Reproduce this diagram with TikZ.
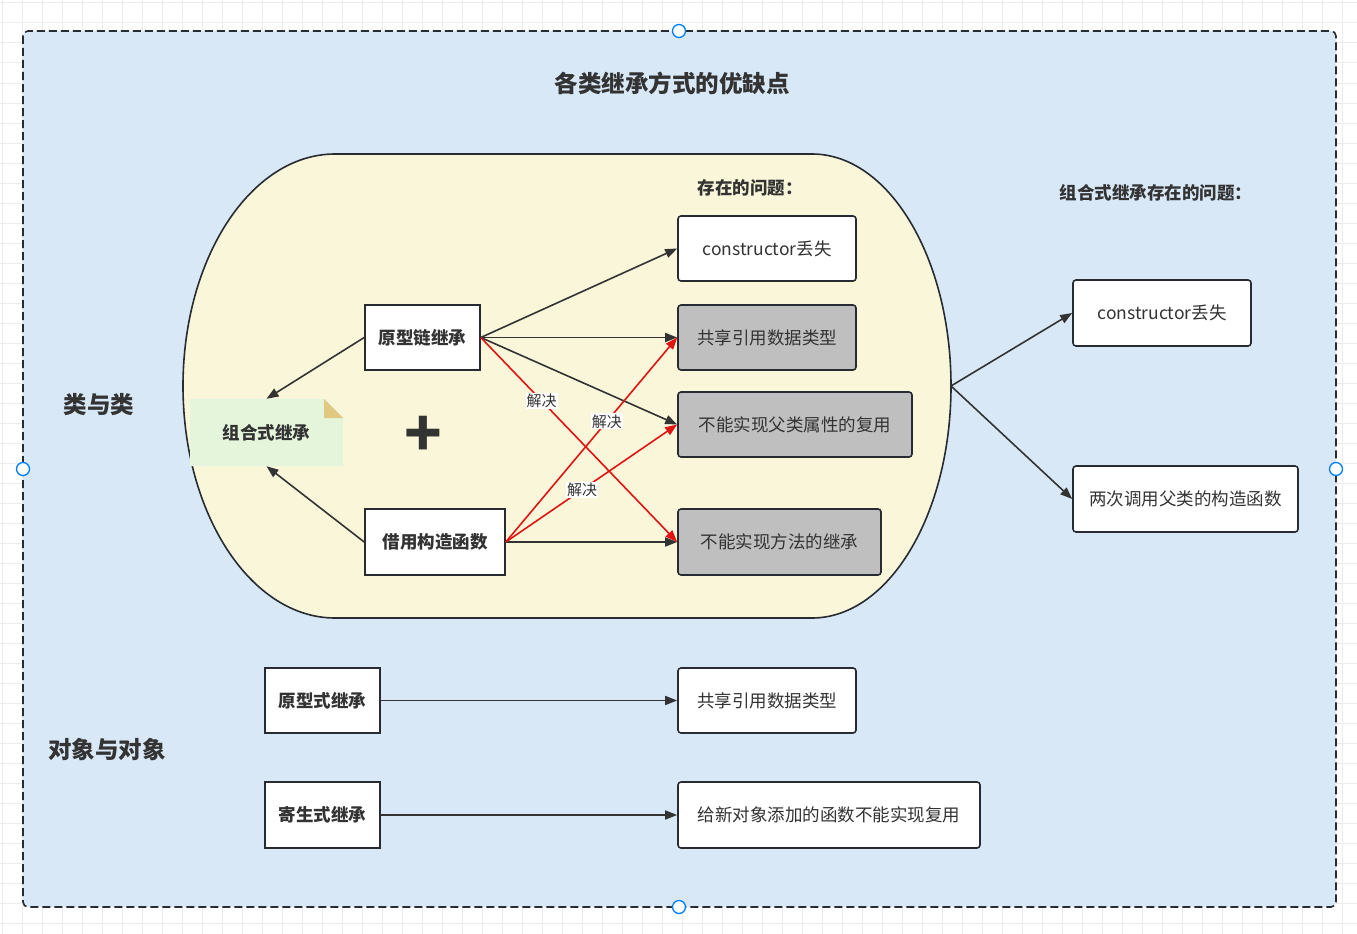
\documentclass[tikz,border=0pt]{standalone}
\usepackage{fontspec}
\setmainfont{Noto Sans CJK SC}
\usetikzlibrary{arrows.meta}

\definecolor{gridc}{RGB}{236,236,236}
\definecolor{panel}{RGB}{216,232,247}
\definecolor{blobc}{RGB}{250,246,218}
\definecolor{notec}{RGB}{228,245,220}
\definecolor{foldc}{RGB}{224,200,128}
\definecolor{greyc}{RGB}{191,191,191}
\definecolor{ink}{RGB}{51,51,51}
\definecolor{edge}{RGB}{40,44,50}
\definecolor{handle}{RGB}{0,127,255}
\definecolor{solve}{RGB}{225,20,20}

\newcommand\fbody{\fontsize{17.5pt}{21pt}\selectfont}
\newcommand\fhead{\bfseries\fontsize{17.5pt}{21pt}\selectfont}
\newcommand\fbig{\bfseries\fontsize{23.5pt}{28pt}\selectfont}
\newcommand\flab{\fontsize{15pt}{18pt}\selectfont}

\tikzset{
  base/.style={text=ink, inner sep=0pt, align=center},
  wbox/.style={base, draw=edge, line width=1.6pt, fill=white, rounded corners=3pt, font=\fbody},
  gbox/.style={wbox, fill=greyc},
  sbox/.style={base, draw=edge, line width=1.6pt, fill=white, font=\fhead},
  heading/.style={base, font=\fhead},
  bighead/.style={base, font=\fbig},
  arr/.style={draw=ink, line width=1.6pt, -{Triangle[length=12pt,width=9pt]}},
  redarr/.style={arr, draw=solve, -{Triangle[length=12pt,width=9pt,fill=solve]}},
  lab/.style={fill=white, text=ink, inner sep=1pt, font=\flab},
  knob/.style={draw=handle, fill=white, line width=1.3pt},
}

\begin{document}
\begin{tikzpicture}[x=1pt,y=-1pt]
\useasboundingbox (0,0) rectangle (1357,934);

% canvas grid
\fill[white] (0,0) rectangle (1357,934);
\foreach \gx in {2,22,...,1342} \draw[gridc, line width=1pt] (\gx,0) -- (\gx,934);
\foreach \gy in {3,23,...,923} \draw[gridc, line width=1pt] (0,\gy) -- (1357,\gy);

% outer container
\draw[fill=panel, draw=edge, line width=1.6pt, dash pattern=on 8pt off 4pt, rounded corners=5pt]
  (23,31) rectangle (1336,907);

% stadium-shaped group
\draw[fill=blobc, draw=edge, line width=1.6pt]
  (335,154) -- (812,154)
  arc[start angle=90, end angle=-90, x radius=139pt, y radius=232pt]
  -- (335,618)
  arc[start angle=270, end angle=90, x radius=152pt, y radius=232pt] -- cycle;
\coordinate (blobE) at (951,386);

% sticky note
\fill[notec] (190,399) -- (324,399) -- (343,418) -- (343,466) -- (190,466) -- cycle;
\fill[foldc] (324,399) -- (324,418) -- (343,418) -- cycle;

% headings
\node[bighead] (title) at (672,83) {各类继承方式的优缺点};
\node[bighead] (cls) at (99,405) {类与类};
\node[bighead] (obj) at (107,750) {对象与对象};
\node[heading] (issues) at (750,188) {存在的问题：};
\node[heading] (issues2) at (1156,193) {组合式继承存在的问题：};
\node[base, font=\bfseries\fontsize{62pt}{62pt}\selectfont] (plus) at (423,436) {+};

% class-to-class boxes
\node[wbox, minimum width=178pt, minimum height=65pt] (c1) at (767,248.5) {constructor丢失};
\node[gbox, minimum width=178pt, minimum height=65pt] (share1) at (767,337.5) {共享引用数据类型};
\node[gbox, minimum width=234pt, minimum height=65pt] (attr) at (795,424.5) {不能实现父类属性的复用};
\node[gbox, minimum width=203pt, minimum height=66pt] (meth) at (779.5,542) {不能实现方法的继承};
\node[sbox, minimum width=115pt, minimum height=65pt] (proto) at (422.5,337.5) {原型链继承};
\node[sbox, minimum width=140pt, minimum height=66pt] (borrow) at (435,542) {借用构造函数};
\node[base, font=\fhead, minimum width=153pt, minimum height=67pt] (combo) at (266.5,432.5) {组合式继承};

\node[wbox, minimum width=178pt, minimum height=66pt] (c2) at (1162,313) {constructor丢失};
\node[wbox, minimum width=225pt, minimum height=66pt] (twice) at (1185.5,499) {两次调用父类的构造函数};

% object-to-object boxes
\node[sbox, minimum width=115pt, minimum height=65pt] (protoInh) at (322.5,700.5) {原型式继承};
\node[wbox, minimum width=178pt, minimum height=65pt] (share2) at (767,700.5) {共享引用数据类型};
\node[sbox, minimum width=115pt, minimum height=66pt] (paras) at (322.5,815) {寄生式继承};
\node[wbox, minimum width=302pt, minimum height=66pt] (newfn) at (829,815) {给新对象添加的函数不能实现复用};

% connectors
\draw[arr] (proto.east) -- (c1.west);
\draw[arr] (proto.east) -- (share1.west);
\draw[arr] (proto.east) -- (attr.west);
\draw[arr] (borrow.east) -- (meth.west);
\draw[arr] (proto.west) -- (combo.north);
\draw[arr] (borrow.west) -- (combo.south);

\draw[redarr] (proto.east) -- node[lab, pos=0.31] (s1) {解决} (meth.west);
\draw[redarr] (borrow.east) -- node[lab, pos=0.59] (s2) {解决} (share1.west);
\draw[redarr] (borrow.east) -- node[lab, pos=0.445] (s3) {解决} (attr.west);

\draw[arr] (blobE) -- (c2.west);
\draw[arr] (blobE) -- (twice.west);

\draw[arr] (protoInh.east) -- (share2.west);
\draw[arr] (paras.east) -- (newfn.west);

% selection handles
\draw[knob] (679,31) circle[radius=6.5pt];
\draw[knob] (23,469) circle[radius=6.5pt];
\draw[knob] (1336,469) circle[radius=6.5pt];
\draw[knob] (679,907) circle[radius=6.5pt];
\end{tikzpicture}
\end{document}
